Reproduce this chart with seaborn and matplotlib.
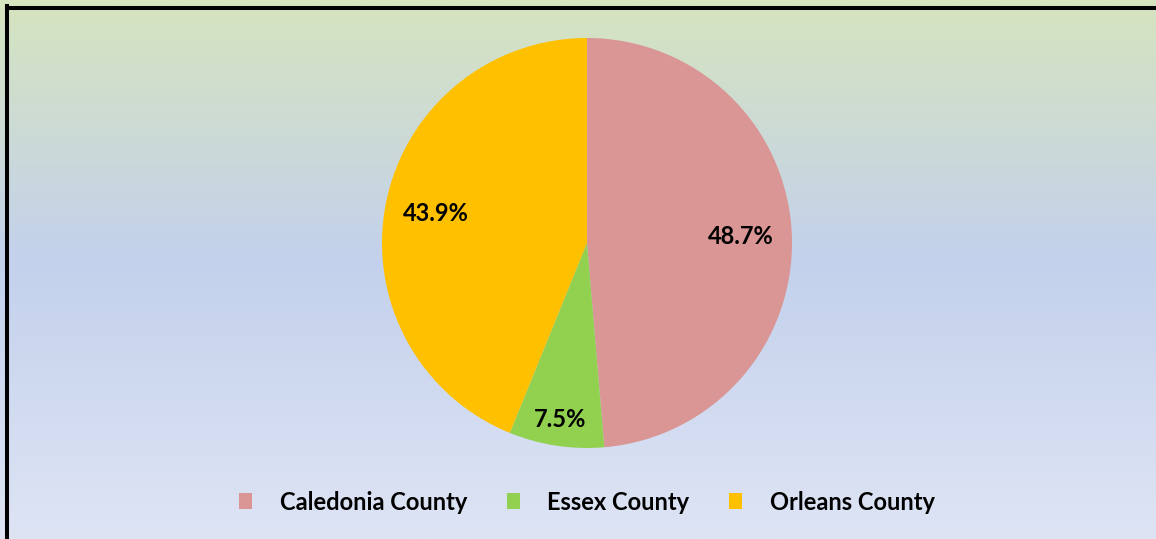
import matplotlib.pyplot as plt
import matplotlib.colors as mcolors
from matplotlib.patches import Patch
from matplotlib.lines import Line2D
import numpy as np
import seaborn as sns

# Data
counties = ["Caledonia County", "Essex County", "Orleans County"]
shares = [48.7, 7.5, 43.9]
colors = ["#d99694", "#92d050", "#ffc000"]

sns.set_style("white")
plt.rcParams['font.family'] = ['Lato', 'DejaVu Sans']
plt.rcParams['text.color'] = 'black'

W, H = 1156, 539
fig = plt.figure(figsize=(W / 100, H / 100), dpi=100)

# gradient background
bg = fig.add_axes([0, 0, 1, 1], zorder=-10)
cmap = mcolors.LinearSegmentedColormap.from_list(
    "bg", [(0.0, "#d6e4bf"), (0.48, "#c3d1ec"), (1.0, "#dee4f4")])
grad = np.linspace(0, 1, 256).reshape(-1, 1)
bg.imshow(grad, aspect="auto", cmap=cmap, extent=[0, 1, 0, 1], origin="upper")
bg.set_axis_off()

# border (left and top visible, rest cropped)
fig.add_artist(Line2D([7 / W, 7 / W], [0, 1 - 6 / H], color="black", lw=2.9,
                      transform=fig.transFigure, solid_capstyle="projecting"))
fig.add_artist(Line2D([7 / W, 1], [1 - 8 / H, 1 - 8 / H], color="black", lw=2.9,
                      transform=fig.transFigure, solid_capstyle="projecting"))

# pie
cx, cy, r = 587, 243, 205
ax = fig.add_axes([(cx - r) / W, (H - cy - r) / H, 2 * r / W, 2 * r / H])
wedges, texts, autotexts = ax.pie(
    shares, colors=colors, startangle=90, counterclock=False,
    autopct="%.1f%%", pctdistance=0.75,
    wedgeprops=dict(linewidth=0, edgecolor="none"),
    textprops=dict(fontsize=17, fontweight="bold", color="black"))
ax.set_xlim(-1, 1)
ax.set_ylim(-1, 1)
ax.set_aspect("equal")
ax.set_axis_off()

# Essex label sits further out
w = wedges[1]
mid = np.deg2rad((w.theta1 + w.theta2) / 2)
autotexts[1].set_position((0.87 * np.cos(mid), 0.87 * np.sin(mid)))

handles = [Patch(facecolor=c, edgecolor="none") for c in colors]
fig.legend(handles, counties, loc="center", bbox_to_anchor=(587 / W, 1 - 502 / H),
           ncol=3, frameon=False, prop=dict(size=17, weight="bold"),
           labelcolor="black",
           handlelength=0.55, handleheight=0.65, handletextpad=1.15,
           columnspacing=1.7)

fig.savefig("out.png", dpi=100)
